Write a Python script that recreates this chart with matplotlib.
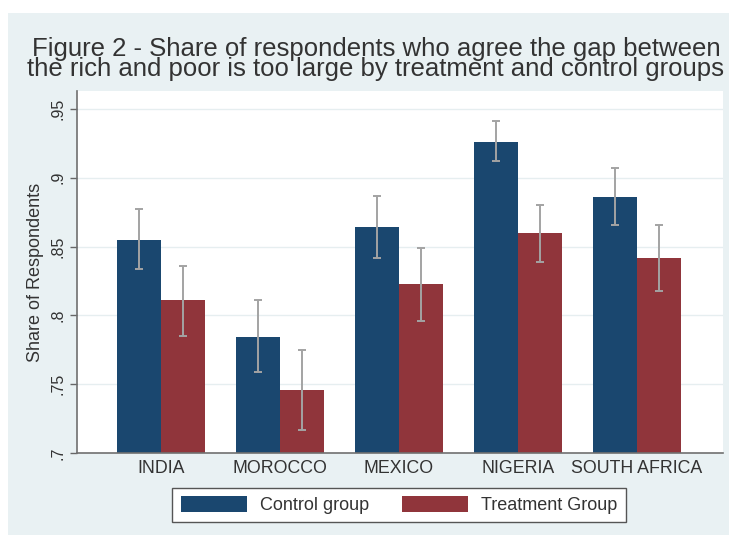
import matplotlib
matplotlib.use("Agg")
import matplotlib.pyplot as plt
from matplotlib.patches import Rectangle
import numpy as np

countries = ["INDIA", "MOROCCO", "MEXICO", "NIGERIA", "SOUTH AFRICA"]
control = [0.855, 0.784, 0.864, 0.926, 0.886]
control_lo = [0.834, 0.759, 0.842, 0.912, 0.866]
control_hi = [0.877, 0.811, 0.887, 0.941, 0.907]
treatment = [0.811, 0.746, 0.823, 0.860, 0.842]
treatment_lo = [0.785, 0.717, 0.796, 0.839, 0.818]
treatment_hi = [0.836, 0.775, 0.849, 0.880, 0.866]
yticks = [0.7, 0.75, 0.8, 0.85, 0.9, 0.95]
yticklabels = [".7", ".75", ".8", ".85", ".9", ".95"]
title = ("Figure 2 - Share of respondents who agree the gap between\n"
         "the rich and poor is too large by treatment and control groups")

plt.rcParams['font.family'] = ['Liberation Sans', 'DejaVu Sans']

W, H = 729, 535
fig = plt.figure(figsize=(W / 100, H / 100), dpi=100)
fig.patch.set_facecolor("white")
bg = Rectangle((8 / W, 0), 1 - 8 / W, 1 - 13 / H, transform=fig.transFigure,
               facecolor="#e9f1f3", edgecolor="none", zorder=-10)
fig.patches.append(bg)

ax = fig.add_axes([77 / W, 1 - 453 / H, (723 - 77) / W, (453 - 91) / H])
ax.set_zorder(2)
ax.set_facecolor("white")

navy = "#1a476f"
maroon = "#90353b"
x = np.arange(len(countries))
bw = 0.37

c_err = [np.array(control) - np.array(control_lo), np.array(control_hi) - np.array(control)]
t_err = [np.array(treatment) - np.array(treatment_lo), np.array(treatment_hi) - np.array(treatment)]

ax.bar(x - bw / 2, control, width=bw, color=navy, label="Control group", zorder=2)
ax.bar(x + bw / 2, treatment, width=bw, color=maroon, label="Treatment Group", zorder=2)
ax.errorbar(x - bw / 2, control, yerr=c_err, fmt="none", ecolor="#a3a3a3",
            elinewidth=1.4, capsize=3, capthick=1.4, zorder=3)
ax.errorbar(x + bw / 2, treatment, yerr=t_err, fmt="none", ecolor="#a3a3a3",
            elinewidth=1.4, capsize=3, capthick=1.4, zorder=3)

ax.set_xlim(-0.706, 4.725)
ax.set_ylim(0.7, 0.7 + (453 - 91) / 1376)
ax.set_yticks(yticks)
ax.set_yticklabels(yticklabels, rotation=90, va="center", fontsize=11.5, color="#333333")
ax.set_xticks(x)
ax.set_xticklabels(countries, fontsize=12.8, color="#333333")
ax.tick_params(axis="x", length=0, pad=5)
ax.tick_params(axis="y", length=5, width=1, color="#666666", pad=3)
ax.grid(axis="y", color="#e6eef0", linewidth=1, zorder=0)
ax.set_axisbelow(True)
for s in ["top", "right"]:
    ax.spines[s].set_visible(False)
for s in ["left", "bottom"]:
    ax.spines[s].set_color("#707070")
    ax.spines[s].set_linewidth(1.2)

ax.set_ylabel("Share of Respondents", fontsize=13, color="#333333", labelpad=5)

fig.text(376 / W, 1 - 59 / H, title, ha="center", va="center", multialignment="center",
         fontsize=18.5, linespacing=0.8, color="#333333")

leg = fig.legend(loc="center", bbox_to_anchor=(399 / W, 1 - 505 / H), ncol=2,
                 fontsize=13, frameon=True, fancybox=False, handlelength=3.7,
                 handleheight=1.0, handletextpad=0.7, columnspacing=1.8,
                 borderpad=0.45)
leg.get_frame().set_edgecolor("#555555")
leg.get_frame().set_facecolor("white")
leg.get_frame().set_alpha(1)
leg.get_frame().set_linewidth(1)
for t in leg.get_texts():
    t.set_color("#333333")

fig.savefig("out.png", dpi=100, facecolor=fig.get_facecolor())
